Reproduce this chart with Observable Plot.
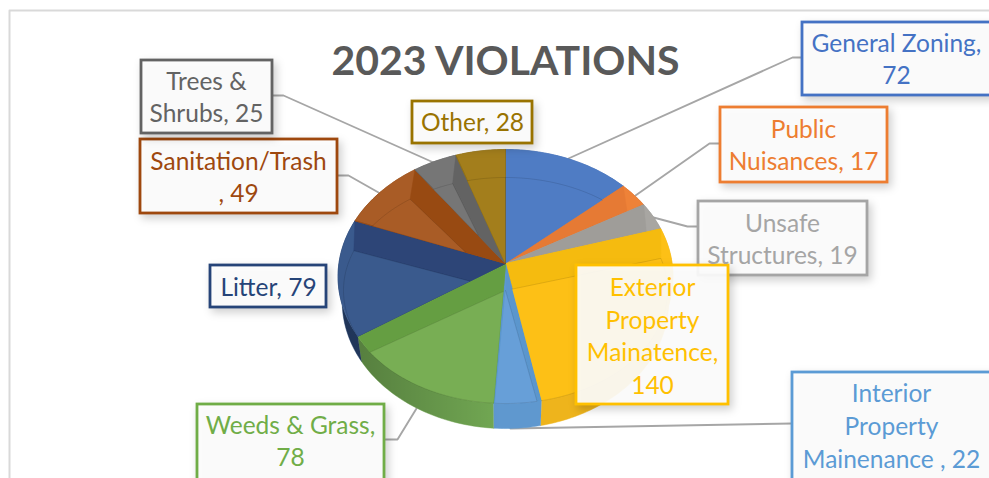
<!DOCTYPE html>
<html>
<head>
<meta charset="utf-8">
<script src="https://cdn.jsdelivr.net/npm/d3@7"></script>
<script src="https://cdn.jsdelivr.net/npm/@observablehq/plot@0.6"></script>
<style>
html,body{margin:0;padding:0;background:#fff;overflow:hidden;width:989px;height:478px}
#chart svg{display:block}
.labelbox rect{filter:drop-shadow(3px 4px 4px rgba(0,0,0,.2))}
</style>
</head>
<body>
<svg width="0" height="0" style="position:absolute">
  <defs>
    <linearGradient id="shade" gradientUnits="userSpaceOnUse" x1="337" y1="0" x2="500" y2="0">
      <stop offset="0" stop-color="#000" stop-opacity="0.28"/>
      <stop offset="1" stop-color="#000" stop-opacity="0"/>
    </linearGradient>
  </defs>
</svg>
<div id="chart"></div>
<script>
// ---- data ----
const title = "2023 VIOLATIONS";
const categories = ["General Zoning","Public Nuisances","Unsafe Structures","Exterior Property Mainatence","Interior Property Mainenance","Weeds & Grass","Litter","Sanitation/Trash","Trees & Shrubs","Other"];
const values = [72,17,19,140,22,78,79,49,25,28];
const labelTexts = ["General Zoning,\n72","Public\nNuisances, 17","Unsafe\nStructures, 19","Exterior\nProperty\nMainatence,\n140","Interior\nProperty\nMainenance , 22","Weeds & Grass,\n78","Litter, 79","Sanitation/Trash\n, 49","Trees &\nShrubs, 25","Other, 28"];

// ---- styles ----
const lineColors = ["#4472c4","#ed7d31","#a5a5a5","#ffc000","#5b9bd5","#70ad47","#264478","#9e480e","#636363","#997300"];
const faceColors = ["#4f7cc4","#ee8238","#a8a6a2","#fdc016","#679fd8","#78ae54","#3a5a8d","#a95c26","#767676","#a37e1c"];
const wallColors = ["#4a74bc","#e67a34","#9f9d99","#f5bb0f","#5b96cd","#659e42","#2d4577","#984a12","#636363","#8e6e12"];
const sideColors = ["#3f67ad","#d06a2a","#959595","#eeb41c","#5f98cf","#72a853","#2b4878","#8a4410","#5a5a5a","#826510"];

// ---- label layout ----
const boxX1 = [802,720,698,576,792,197,210,140,141,412];
const boxX2 = [992,887,867,728,992,384,326,337,272,532];
const boxY1 = [22,107,201,265,372,404,265,139,60,101];
const boxY2 = [95,182,275,404,490,490,307,213,133,143];
const textCx = [896,803,782,652,891,290,268,238,206,472];
const textCy = [57,143,237,334,424,439,285,175,95,120];
const leaders = [
  [[568,158],[792,57],[802,57]],
  [[635,195],[709,143],[720,143]],
  [[653,217],[687,226],[698,226]],
  null,
  [[510,428],[792,423]],
  [[416,408],[397,439],[385,439]],
  null,
  [[378,192],[348,175],[337,175]],
  [[433,162],[283,95],[272,95]],
  null
];

// ---- 3-D pie projection ----
const cx = 505, apexY = 263, Ry = 125.7, Rx = 166.6, persp = 0.1024, depth = 25;
const floorY = 290, floorRx = 162, floorRy = 113;
const rim = t => { const d = 1 + persp*Math.cos(t); return [cx + Rx*Math.sin(t)/d, apexY - Ry*Math.cos(t)/d]; };
const floorPt = t => [cx + floorRx*Math.sin(t), floorY - floorRy*Math.cos(t)];
const low = t => { const p = rim(t); return [cx + (p[0]-cx)*0.975, p[1] + depth]; };
const arc = (f, a, b) => { const n = Math.max(2, Math.ceil(Math.abs(b-a)/0.02)); return d3.range(n+1).map(i => f(a + (b-a)*i/n)); };

const apex = [cx, apexY], floorApex = [cx, floorY];
const cross = (o, p, q) => (p[0]-o[0])*(q[1]-o[1]) - (p[1]-o[1])*(q[0]-o[0]);
function clipHalf(poly, inside) {
  const out = [];
  for (let i = 0; i < poly.length; i++) {
    const a = poly[i], b = poly[(i+1) % poly.length], fa = inside(a), fb = inside(b);
    if (fa >= 0) out.push(a);
    if ((fa >= 0) !== (fb >= 0)) { const k = fa/(fa-fb); out.push([a[0]+(b[0]-a[0])*k, a[1]+(b[1]-a[1])*k]); }
  }
  return out;
}
const clipWedge = (poly, a, b) => {
  const pa = rim(a), pb = rim(b);
  return clipHalf(clipHalf(poly, q => cross(apex, pa, q)), q => -cross(apex, pb, q));
};

const arcs = d3.pie().sort(null).value(d => d)(values);
const rows = [];
let pid = 0;
const push = (poly, color, stroke) => { const id = pid++; poly.forEach(p => rows.push({id, x:p[0], y:p[1], color, stroke: stroke || color})); };

// side walls first
arcs.forEach((s,i) => push([...arc(rim, s.startAngle, s.endAngle), ...arc(low, s.endAngle, s.startAngle)], sideColors[i]));
const shadeRows = [...arc(rim, Math.PI/2, 1.7*Math.PI), ...arc(low, 1.7*Math.PI, Math.PI/2)].map(p => ({x:p[0], y:p[1]}));

const topRows = [];
const pushTop = (poly, color, stroke) => { const id = pid++; poly.forEach(p => topRows.push({id, x:p[0], y:p[1], color, stroke: stroke || color})); };
arcs.forEach((s,i) => {
  const a = s.startAngle, b = s.endAngle;
  pushTop([apex, ...arc(rim, a, b)], faceColors[i]);
  pushTop(clipWedge([apex, rim(a), floorPt(a), floorApex], a, b), wallColors[i]);
  pushTop(clipWedge([apex, rim(b), floorPt(b), floorApex], a, b), wallColors[i]);
});
const floorRows = [];
arcs.forEach((s,i) => {
  const a = s.startAngle, b = s.endAngle, id = pid++;
  clipWedge([floorApex, ...arc(floorPt, a, b)], a, b).forEach(p => floorRows.push({id, x:p[0], y:p[1], color:faceColors[i]}));
});

const boxes = categories.map((c,i) => ({x1:boxX1[i], x2:boxX2[i], y1:boxY1[i], y2:boxY2[i], color:lineColors[i], text:labelTexts[i], cx:textCx[i], cy:textCy[i]}));
const leaderRows = leaders.flatMap((l,i) => l ? l.map(p => ({id:i, x:p[0], y:p[1]})) : []);
const frame = [{x:989,y:10},{x:9,y:10},{x:9,y:478}];

const plot = Plot.plot({
  width: 989, height: 478, margin: 0,
  x: {domain:[0,989], range:[0,989], axis:null},
  y: {domain:[0,478], range:[0,478], axis:null},
  color: {type:"identity"},
  style: {fontFamily:"Lato, Carlito, sans-serif", background:"#fff"},
  marks: [
    Plot.line(frame, {x:"x", y:"y", stroke:"#d9d9d9", strokeWidth:2}),
    Plot.text([title], {x:()=>505, y:()=>61, text:d=>d, fontSize:41, fontWeight:700, fill:"#595959"}),
    Plot.line(leaderRows, {x:"x", y:"y", z:"id", stroke:"#a6a6a6", strokeWidth:1.9}),
    Plot.line(rows, {x:"x", y:"y", z:"id", fill:"color", stroke:"stroke", strokeWidth:0.5}),
    Plot.line(shadeRows, {x:"x", y:"y", fill:"url(#shade)", stroke:"none"}),
    Plot.line(topRows, {x:"x", y:"y", z:"id", fill:"color", stroke:"stroke", strokeWidth:0.5}),
    Plot.line(floorRows, {x:"x", y:"y", z:"id", fill:"color", stroke:"#000", strokeOpacity:0.14, strokeWidth:0.8}),
    Plot.rect(boxes, {x1:"x1", x2:"x2", y1:"y1", y2:"y2", fill:"#fdfdfd", fillOpacity:0.92, stroke:"color", strokeWidth:2.8, className:"labelbox"}),
    Plot.text(boxes, {x:"cx", y:"cy", text:"text", fill:"color", fontSize:24.5, lineHeight:1.33})
  ]
});
document.getElementById("chart").appendChild(plot);
</script>
</body>
</html>
